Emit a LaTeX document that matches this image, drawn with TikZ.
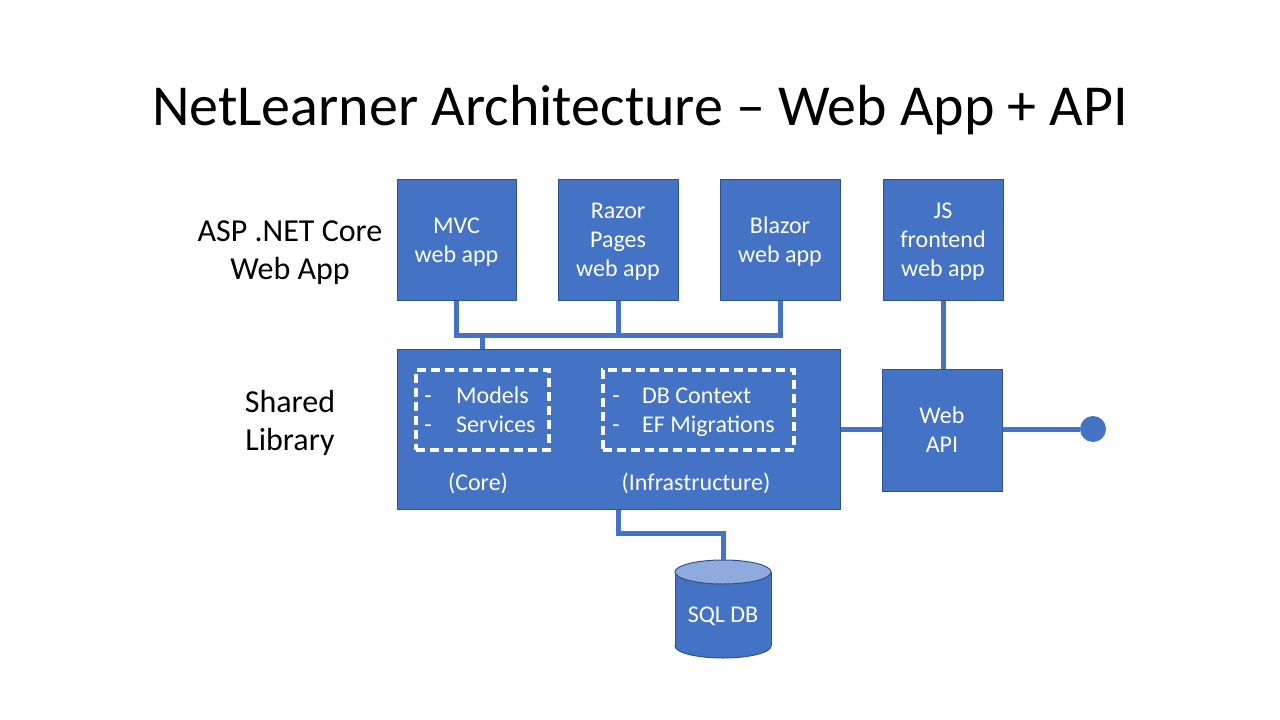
\documentclass[tikz,border=0pt]{standalone}
\usepackage{fontspec}
\setmainfont{Carlito}
\definecolor{boxfill}{HTML}{4472C4}
\definecolor{boxedge}{HTML}{2F528F}
\definecolor{dbtop}{HTML}{8FAADC}
\begin{document}
\begin{tikzpicture}[x=1pt,y=-1pt,
  box/.style={draw=boxedge, fill=boxfill, line width=1pt, text=white, inner sep=0pt, align=center, font=\fontsize{24}{29}\selectfont},
  boxtxt/.style={text=white, inner sep=0pt, align=center, font=\fontsize{24}{29}\selectfont, yshift=-2.5pt},
  conn/.style={draw=boxfill, line width=5pt},
  dashbox/.style={draw=white, line width=4pt, dash pattern=on 9pt off 5pt, inner sep=0pt},
  lbl/.style={font=\fontsize{32}{38.5}\selectfont, align=center, inner sep=0pt},
  wtxt/.style={text=white, font=\fontsize{24}{29}\selectfont, inner sep=0pt}]
\useasboundingbox (0,0) rectangle (1280,720);
\node[font=\fontsize{58}{70}\selectfont, anchor=base, inner sep=0pt] (title) at (640,125) {NetLearner Architecture – Web App + API};

% side labels
\node[lbl] (asp) at (290,252.5) {ASP .NET Core\\Web App};
\node[lbl] (sharedlbl) at (290,423) {Shared\\Library};

% top boxes
\node[box, minimum width=119, minimum height=121, label={[boxtxt]center:{MVC\\web app}}] (mvc) at (456.5,239.5) {};
\node[box, minimum width=120, minimum height=121, label={[boxtxt]center:{Razor\\Pages\\web app}}] (razor) at (618,239.5) {};
\node[box, minimum width=120, minimum height=121, label={[boxtxt]center:{Blazor\\web app}}] (blazor) at (780,239.5) {};
\node[box, minimum width=120, minimum height=121, label={[boxtxt]center:{JS\\frontend\\web app}}] (js) at (943,239.5) {};

% shared library
\node[box, minimum width=443, minimum height=160] (shared) at (618.5,429) {};
\node[dashbox, minimum width=133, minimum height=80] (core) at (482.5,410) {};
\node[dashbox, minimum width=191, minimum height=80] (infra) at (698.5,410) {};
\node[wtxt, anchor=base] (d1) at (428,403) {-};
\node[wtxt, anchor=base west] (models) at (456,403) {Models};
\node[wtxt, anchor=base] (d2) at (428,432) {-};
\node[wtxt, anchor=base west] (services) at (456,432) {Services};
\node[wtxt, anchor=base] (d3) at (616,403) {-};
\node[wtxt, anchor=base west] (dbctx) at (642,403) {DB Context};
\node[wtxt, anchor=base] (d4) at (616,432) {-};
\node[wtxt, anchor=base west] (efmig) at (642,432) {EF Migrations};
\node[wtxt, anchor=base] (corelbl) at (478,490) {(Core)};
\node[wtxt, anchor=base] (infralbl) at (696,490) {(Infrastructure)};

% web api
\node[box, minimum width=120, minimum height=122] (api) at (942,430) {Web\\API};
\node[circle, fill=boxfill, minimum size=26pt, inner sep=0pt] (dot) at (1093,429) {};

% database
\node[minimum width=96, minimum height=98, inner sep=0pt] (db) at (723,609) {};
\draw[boxedge, fill=boxfill, line width=1pt] (723,646) ellipse [x radius=48, y radius=12];
\fill[boxfill] (675,572) rectangle (771,646);
\draw[boxedge, line width=1pt] (675,572) -- (675,646) (771,572) -- (771,646);
\draw[boxedge, fill=dbtop, line width=1pt] (723,572) ellipse [x radius=48, y radius=12];
\node[wtxt] (dbtext) at (723,616) {SQL DB};

% connectors
\coordinate (busy) at (0,335);
\coordinate (stub) at (482,335);
\draw[conn] (mvc.south) -- (mvc.south |- busy) -| (blazor.south);
\draw[conn] (razor.south) -- (razor.south |- busy);
\draw[conn] (stub) -- (stub |- shared.north);
\draw[conn] (js.south) -- (js.south |- api.north);
\draw[conn] (shared.east) -- (shared.east -| api.west);
\draw[conn] (api.east |- dot) -- (dot);
\draw[conn] (shared.south) -- ++(0,24) -| (db.north);
\end{tikzpicture}
\end{document}
